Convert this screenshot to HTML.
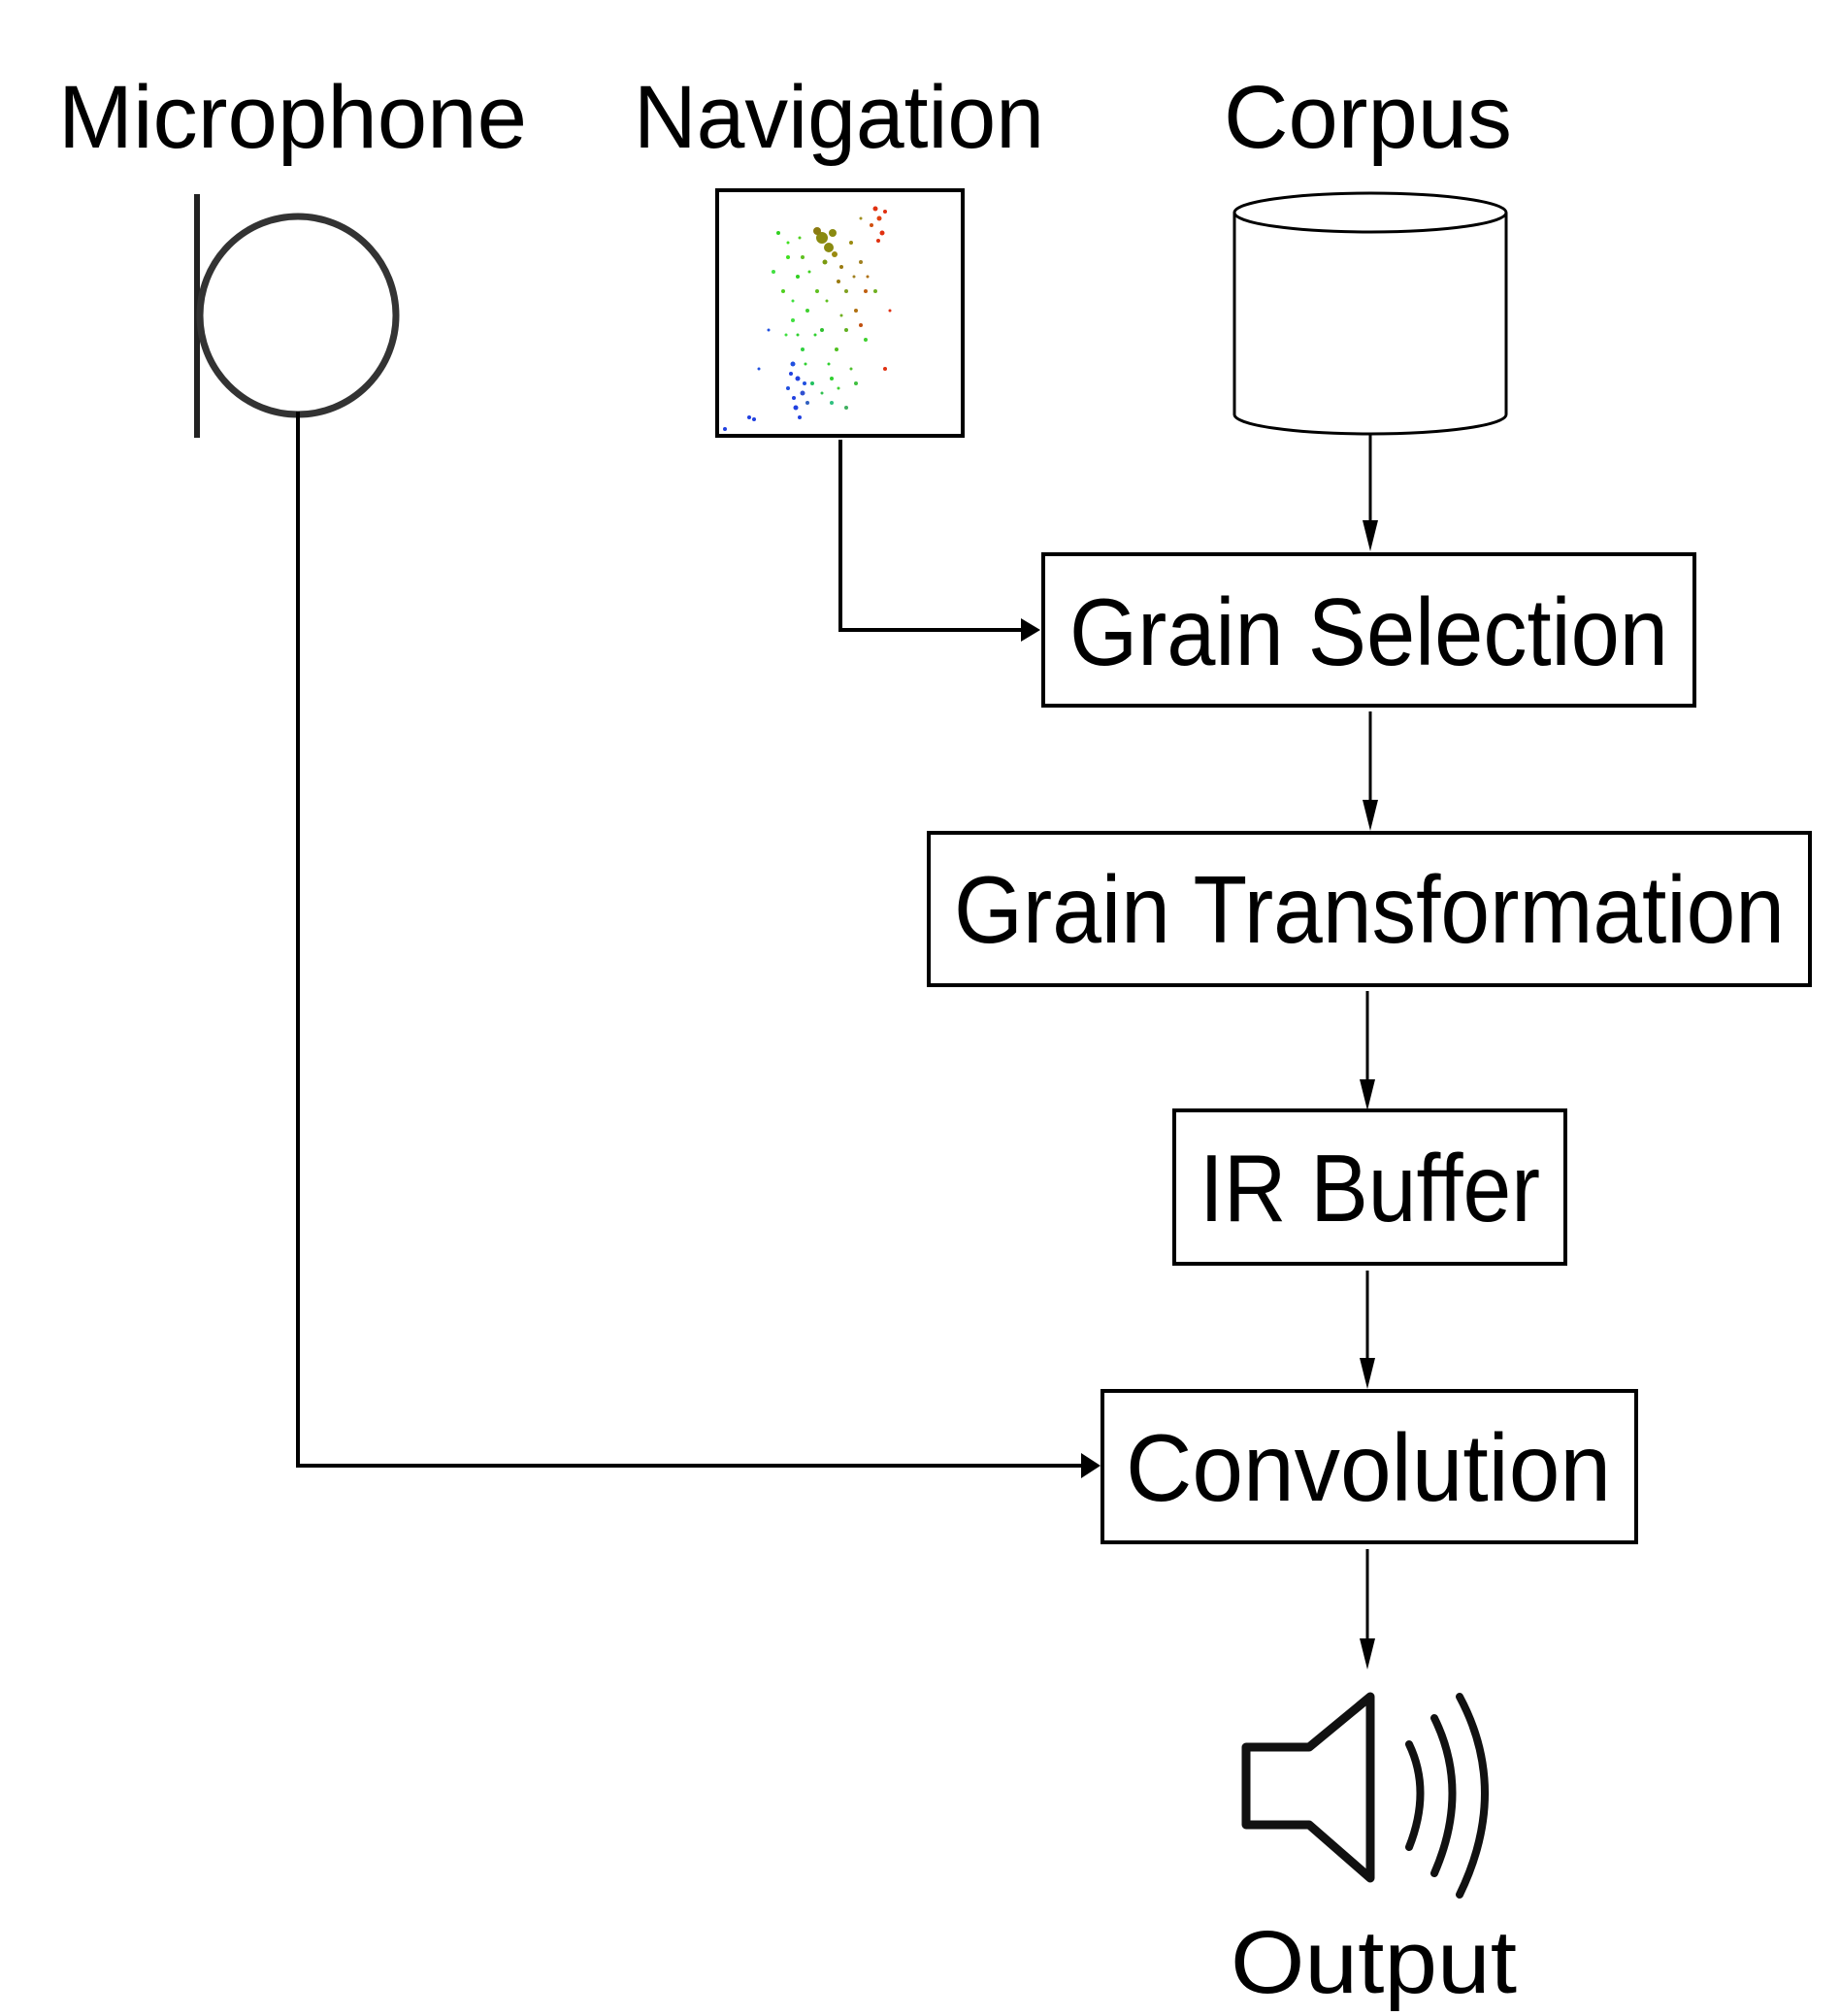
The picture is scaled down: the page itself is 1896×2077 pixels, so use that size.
<!DOCTYPE html>
<html><head><meta charset="utf-8"><style>
html,body{margin:0;padding:0;background:#fff;}
svg{display:block;}
text{font-family:"Liberation Sans",sans-serif;fill:#000;}
</style></head><body>
<svg width="1896" height="2077" viewBox="0 0 1896 2077" xmlns="http://www.w3.org/2000/svg">
<!-- labels -->
<text x="60" y="152" font-size="92" textLength="483" lengthAdjust="spacingAndGlyphs">Microphone</text>
<text x="653" y="152" font-size="92" textLength="423" lengthAdjust="spacingAndGlyphs">Navigation</text>
<text x="1261" y="152" font-size="92" textLength="297" lengthAdjust="spacingAndGlyphs">Corpus</text>

<!-- microphone -->
<line x1="203" y1="200" x2="203" y2="451" stroke="#222" stroke-width="6"/>
<ellipse cx="307" cy="325" rx="101" ry="102" fill="none" stroke="#333" stroke-width="7"/>

<!-- navigation box -->
<rect x="739" y="196" width="253" height="253" fill="#fff" stroke="#000" stroke-width="4"/>
<g transform="translate(12,0)">
<circle cx="835" cy="245" r="6" fill="#8a8a10"/><circle cx="842" cy="255" r="5" fill="#8a8a10"/><circle cx="830" cy="238" r="4" fill="#8a7a10"/><circle cx="846" cy="240" r="4" fill="#8a8a10"/>
<circle cx="848" cy="262" r="3" fill="#9a8a10"/><circle cx="838" cy="270" r="2.5" fill="#7a9a10"/><circle cx="855" cy="275" r="2" fill="#9a7a10"/><circle cx="852" cy="290" r="2" fill="#9a7a10"/>
<circle cx="890" cy="215" r="2.5" fill="#e03010"/><circle cx="894" cy="225" r="2.5" fill="#e04010"/><circle cx="897" cy="240" r="2.5" fill="#e03010"/><circle cx="886" cy="232" r="2" fill="#d05010"/><circle cx="900" cy="218" r="2" fill="#e03010"/><circle cx="893" cy="248" r="2" fill="#e03010"/>
<circle cx="880" cy="300" r="2" fill="#c06010"/><circle cx="870" cy="320" r="2" fill="#b07010"/><circle cx="900" cy="380" r="2" fill="#e03010"/><circle cx="905" cy="320" r="1.5" fill="#e03010"/><circle cx="875" cy="335" r="2" fill="#c05010"/>
<circle cx="790" cy="240" r="2" fill="#30d020"/><circle cx="800" cy="265" r="2" fill="#40e020"/><circle cx="810" cy="285" r="2" fill="#30d020"/><circle cx="795" cy="300" r="2" fill="#50d020"/>
<circle cx="820" cy="320" r="2" fill="#40d030"/><circle cx="835" cy="340" r="2" fill="#30c030"/><circle cx="815" cy="360" r="2" fill="#30d040"/><circle cx="850" cy="360" r="2" fill="#50c020"/>
<circle cx="860" cy="340" r="2" fill="#60b020"/><circle cx="845" cy="390" r="2" fill="#30d030"/><circle cx="870" cy="395" r="2" fill="#40c040"/><circle cx="825" cy="395" r="2" fill="#20c060"/>
<circle cx="805" cy="330" r="2" fill="#40e040"/><circle cx="830" cy="300" r="2" fill="#60c020"/><circle cx="860" cy="300" r="2" fill="#80a020"/><circle cx="875" cy="270" r="2" fill="#a08020"/>
<circle cx="865" cy="250" r="2" fill="#9a8a10"/><circle cx="815" cy="265" r="2" fill="#60c020"/><circle cx="845" cy="415" r="2" fill="#30c080"/><circle cx="860" cy="420" r="2" fill="#40b060"/>
<circle cx="800" cy="250" r="1.5" fill="#40e020"/><circle cx="812" cy="245" r="1.5" fill="#50d020"/><circle cx="822" cy="280" r="1.5" fill="#40d020"/><circle cx="805" cy="310" r="1.5" fill="#40e040"/>
<circle cx="840" cy="310" r="1.5" fill="#60c020"/><circle cx="828" cy="345" r="1.5" fill="#30d030"/><circle cx="842" cy="375" r="1.5" fill="#30d030"/><circle cx="855" cy="325" r="1.5" fill="#70b020"/>
<circle cx="818" cy="375" r="1.5" fill="#30d030"/><circle cx="835" cy="405" r="1.5" fill="#30c050"/><circle cx="852" cy="400" r="1.5" fill="#40d030"/><circle cx="865" cy="380" r="1.5" fill="#50c030"/>
<circle cx="798" cy="345" r="1.5" fill="#40e040"/><circle cx="810" cy="345" r="1.5" fill="#30d030"/><circle cx="868" cy="285" r="1.5" fill="#a08020"/><circle cx="882" cy="285" r="1.5" fill="#b07010"/>
<circle cx="805" cy="375" r="2.5" fill="#2050e0"/><circle cx="810" cy="390" r="2.5" fill="#2040e0"/><circle cx="815" cy="405" r="2.5" fill="#3050d0"/><circle cx="808" cy="420" r="2.5" fill="#2040e0"/>
<circle cx="812" cy="430" r="2" fill="#2040e0"/><circle cx="820" cy="415" r="2" fill="#3060c0"/><circle cx="800" cy="400" r="2" fill="#2050e0"/><circle cx="760" cy="430" r="2" fill="#2040e0"/>
<circle cx="803" cy="385" r="2" fill="#2040e0"/><circle cx="817" cy="395" r="2" fill="#2050e0"/><circle cx="806" cy="410" r="2" fill="#2040e0"/>
<circle cx="765" cy="432" r="2" fill="#2040e0"/><circle cx="735" cy="442" r="2" fill="#2040e0"/><circle cx="770" cy="380" r="1.5" fill="#2050e0"/><circle cx="780" cy="340" r="1.5" fill="#2050e0"/>
<circle cx="880" cy="350" r="2" fill="#40d030"/><circle cx="890" cy="300" r="2" fill="#70b020"/><circle cx="785" cy="280" r="2" fill="#40e040"/><circle cx="875" cy="225" r="1.5" fill="#a09020"/>
</g>
<polyline points="866,453 866,649 1056,649" fill="none" stroke="#000" stroke-width="4"/>
<polygon points="1072,649 1052,637 1052,661" fill="#000"/>

<!-- cylinder -->
<path d="M1272,219 L1272,427 A140,20 0 0 0 1552,427 L1552,219" fill="#fff" stroke="#000" stroke-width="3"/>
<ellipse cx="1412" cy="219" rx="140" ry="20" fill="#fff" stroke="#000" stroke-width="3"/>
<line x1="1412" y1="448" x2="1412" y2="548" stroke="#000" stroke-width="3"/>
<polygon points="1412,568 1404,536 1420,536" fill="#000"/>

<!-- boxes -->
<rect x="1075" y="571" width="671" height="156" fill="#fff" stroke="#000" stroke-width="4"/>
<text x="1102" y="685" font-size="98" textLength="617" lengthAdjust="spacingAndGlyphs">Grain Selection</text>
<line x1="1412" y1="733" x2="1412" y2="836" stroke="#000" stroke-width="3"/>
<polygon points="1412,856 1404,824 1420,824" fill="#000"/>

<rect x="957" y="858" width="908" height="157" fill="#fff" stroke="#000" stroke-width="4"/>
<text x="983" y="971" font-size="98" textLength="856" lengthAdjust="spacingAndGlyphs">Grain Transformation</text>
<line x1="1409" y1="1021" x2="1409" y2="1124" stroke="#000" stroke-width="3"/>
<polygon points="1409,1144 1401,1112 1417,1112" fill="#000"/>

<rect x="1210" y="1144" width="403" height="158" fill="#fff" stroke="#000" stroke-width="4"/>
<text x="1236" y="1258" font-size="98" textLength="351" lengthAdjust="spacingAndGlyphs">IR Buffer</text>
<line x1="1409" y1="1309" x2="1409" y2="1411" stroke="#000" stroke-width="3"/>
<polygon points="1409,1431 1401,1399 1417,1399" fill="#000"/>

<rect x="1136" y="1433" width="550" height="156" fill="#fff" stroke="#000" stroke-width="4"/>
<text x="1160" y="1546" font-size="98" textLength="500" lengthAdjust="spacingAndGlyphs">Convolution</text>
<line x1="1409" y1="1596" x2="1409" y2="1700" stroke="#000" stroke-width="3"/>
<polygon points="1409,1720 1401,1688 1417,1688" fill="#000"/>

<!-- mic connector -->
<polyline points="307,424 307,1510 1115,1510" fill="none" stroke="#000" stroke-width="4"/>
<polygon points="1134,1510 1114,1497 1114,1523" fill="#000"/>

<!-- speaker -->
<path d="M1284,1800 L1349,1800 L1412,1748 L1412,1935 L1349,1880 L1284,1880 Z" fill="none" stroke="#111" stroke-width="9" stroke-linejoin="round"/>
<path d="M1452,1797 Q1475,1845 1452,1903" fill="none" stroke="#111" stroke-width="8" stroke-linecap="round"/>
<path d="M1478,1770 Q1515,1845 1478,1930" fill="none" stroke="#111" stroke-width="8" stroke-linecap="round"/>
<path d="M1504,1748 Q1556,1845 1504,1952" fill="none" stroke="#111" stroke-width="8" stroke-linecap="round"/>

<text x="1268" y="2053" font-size="92" textLength="295" lengthAdjust="spacingAndGlyphs">Output</text>
</svg>
</body></html>
